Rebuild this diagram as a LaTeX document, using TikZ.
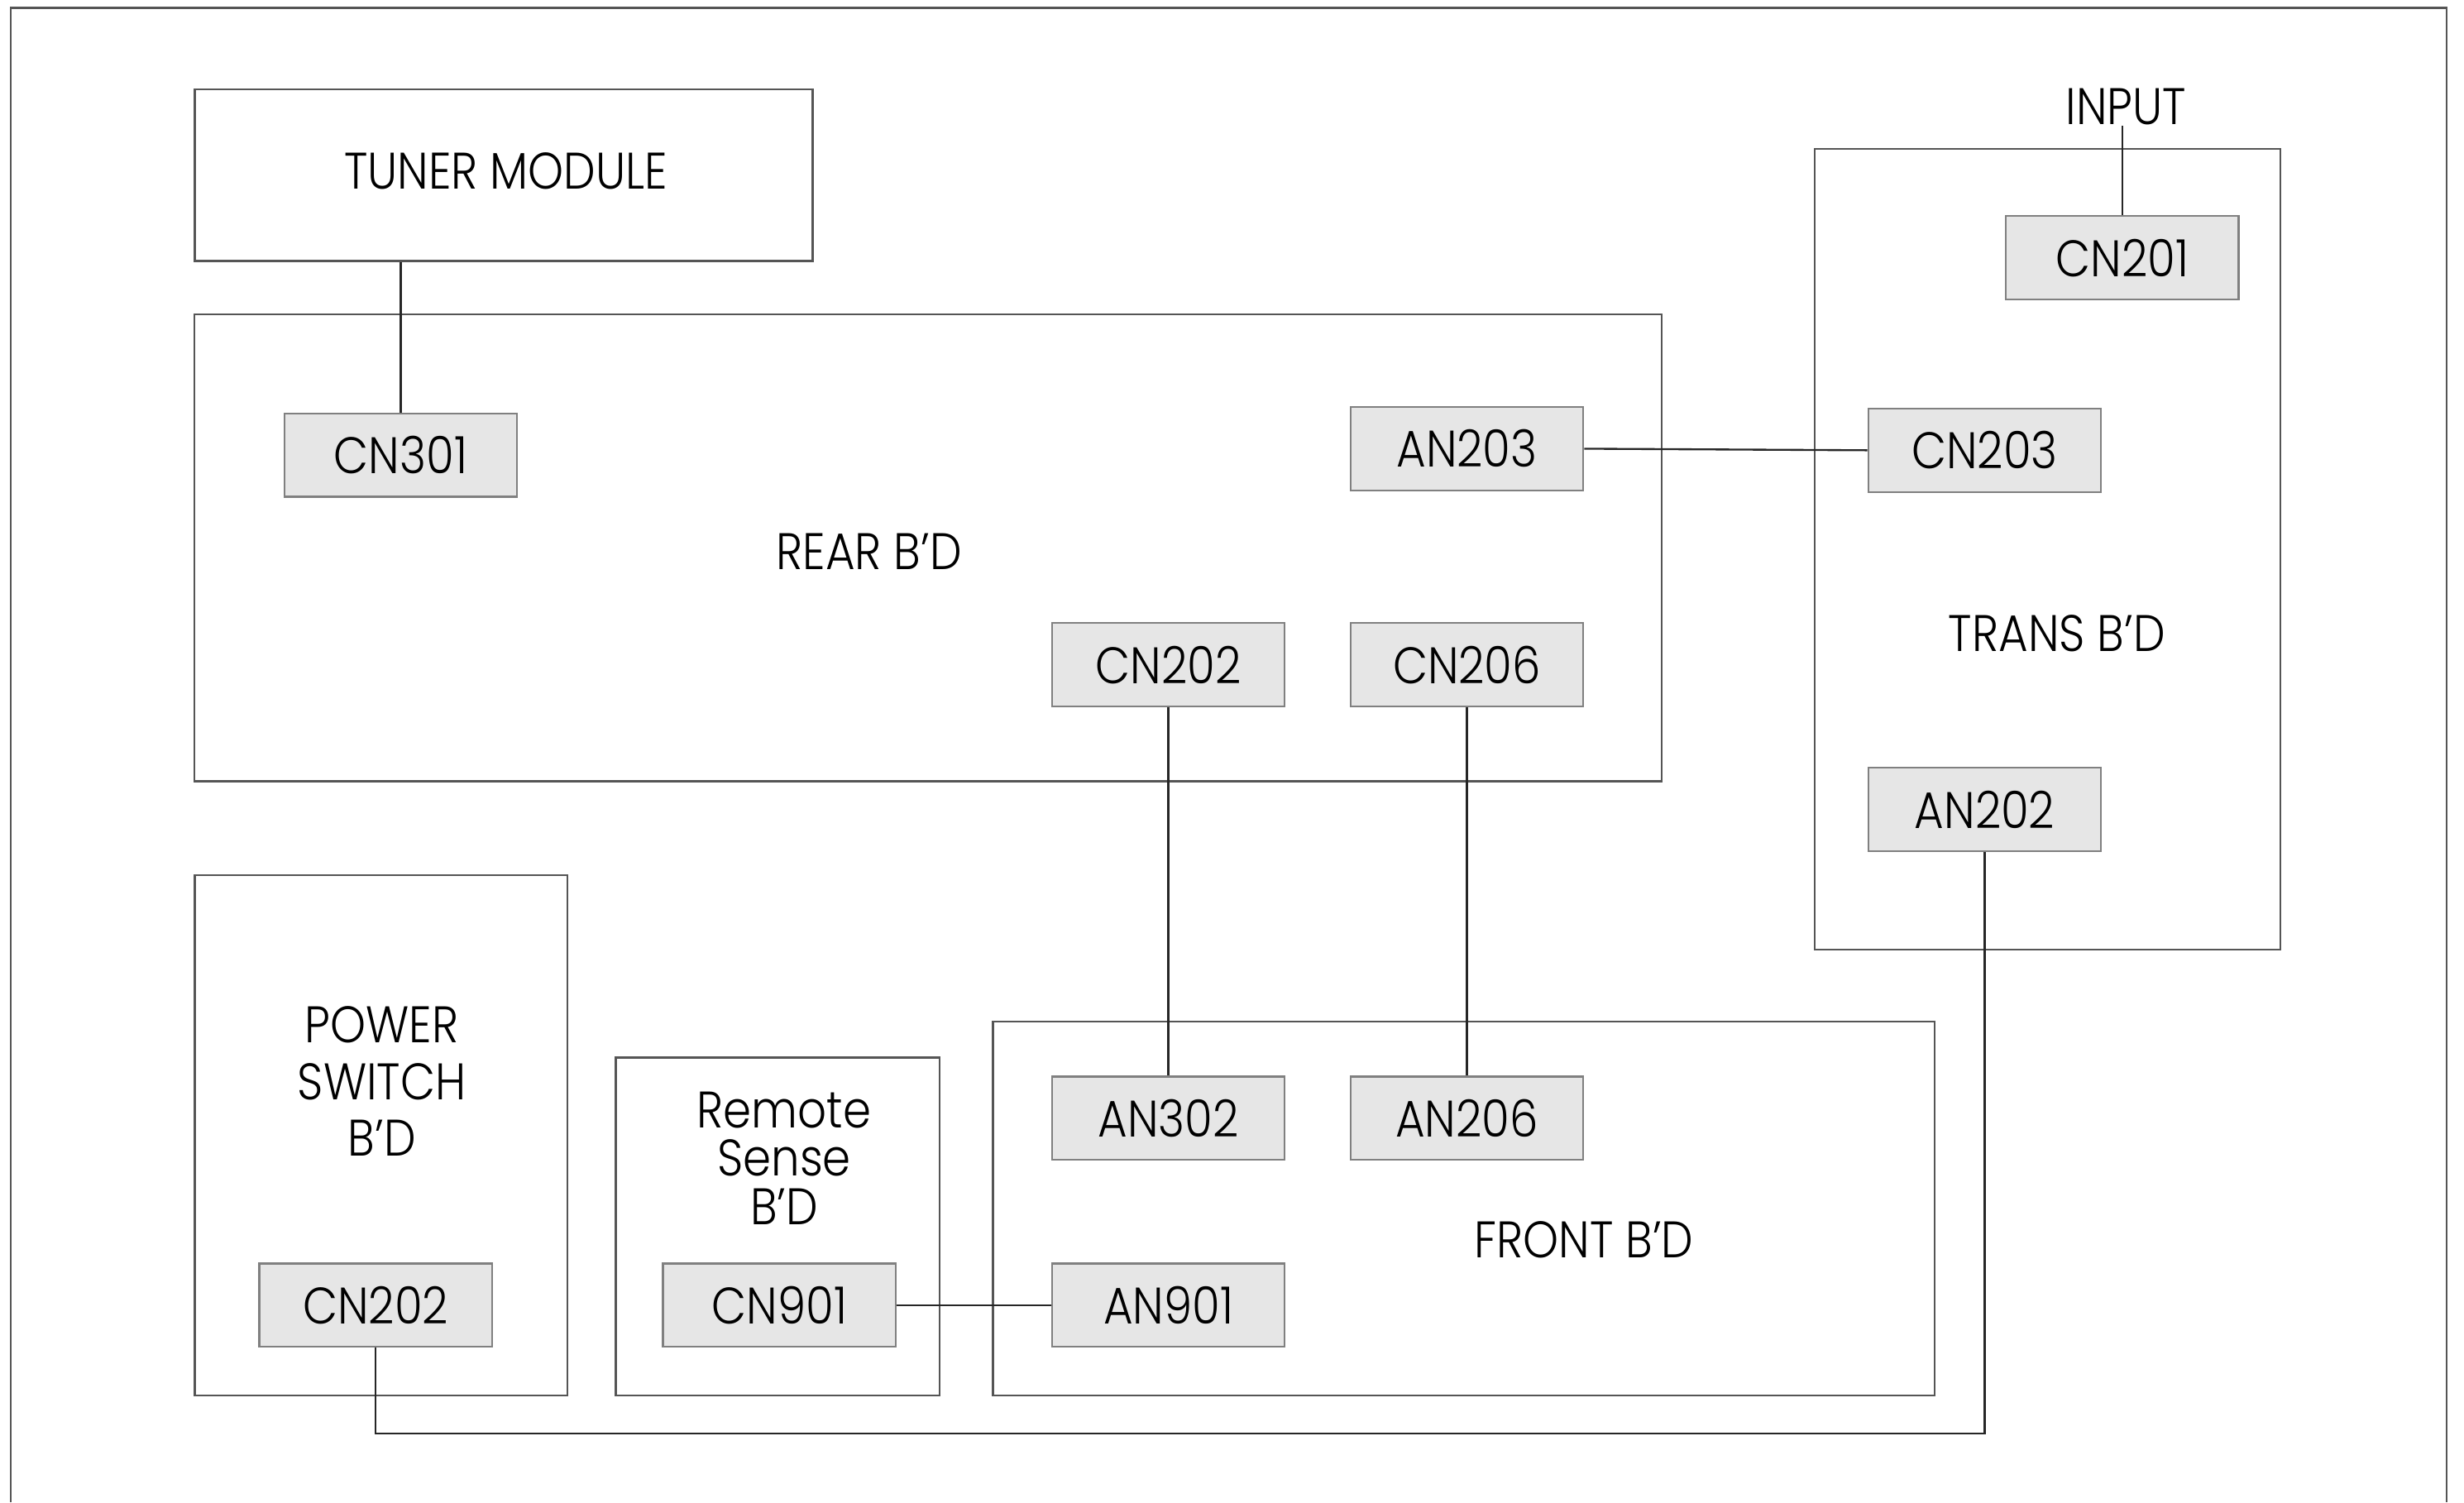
\documentclass[tikz,border=0pt]{standalone}
\usepackage{fontspec}
\setmainfont{Poppins}[UprightFont=* Light, FakeStretch=0.88]
\usetikzlibrary{positioning}
\definecolor{cnfill}{HTML}{E6E6E6}
\definecolor{cnedge}{HTML}{808080}
\definecolor{bdedge}{HTML}{555555}
\tikzset{
  board/.style args={#1/#2}{
    rectangle, draw=bdedge, line width=0.35pt, inner sep=0pt,
    minimum width=#1, minimum height=#2
  },
  conn/.style={
    rectangle, draw=cnedge, fill=cnfill, line width=0.35pt, inner sep=0pt,
    minimum width=1.48cm, minimum height=0.53cm,
    font=\fontsize{9.3}{10.2}\selectfont
  },
  bdlabel/.style={inner sep=0pt, align=center, font=\fontsize{9.3}{10.2}\selectfont},
  wire/.style={line width=0.35pt, draw=black!85},
}
\begin{document}
\begin{tikzpicture}[x=0.01cm, y=-0.01cm]
  \useasboundingbox (0,0) rectangle (1568,956);
  \draw[bdedge, line width=0.35pt] (7,956) -- (7,5) -- (1557,5) -- (1557,956);

  % boards
  \node[board=3.93cm/1.09cm] (tuner) at (320.5,111.5) {};
  \node[board=9.33cm/2.97cm] (rear)  at (590.5,348.5) {};
  \node[board=2.96cm/5.09cm] (trans) at (1303,349.5) {};
  \node[board=2.37cm/3.31cm] (power) at (242.5,722.5) {};
  \node[board=2.06cm/2.15cm] (remote) at (495,780.5) {};
  \node[board=5.99cm/2.38cm] (front) at (931.5,769) {};

  \node[bdlabel] (tunerlbl)  at (322,109) {TUNER MODULE};
  \node[bdlabel] (rearlbl)   at (553,351) {REAR B’D};
  \node[bdlabel] (translbl)  at (1309,403) {TRANS B’D};
  \node[bdlabel] (frontlbl)  at (1008,789) {FRONT B’D};
  \node[bdlabel] (powerlbl)  at (243,688) {POWER\\SWITCH\\B’D};
  \node[bdlabel, font=\fontsize{9.3}{8.8}\selectfont] (remotelbl) at (499,737) {Remote\\Sense\\B’D};
  \node[bdlabel] (input) at (1353,68) {INPUT};

  % connectors
  \node[conn] (cn301)  at (255,289.5)   {CN301};
  \node[conn] (an203)  at (933.5,285.5) {AN203};
  \node[conn] (cn202r) at (743.5,423)   {CN202};
  \node[conn] (cn206)  at (933.5,423)   {CN206};
  \node[conn] (cn201)  at (1350.5,164)  {CN201};
  \node[conn] (cn203)  at (1263,286.5)  {CN203};
  \node[conn] (an202)  at (1263,515)    {AN202};
  \node[conn] (cn202p) at (239,830.5)   {CN202};
  \node[conn] (cn901)  at (496,830.5)   {CN901};
  \node[conn] (an302)  at (743.5,711.5) {AN302};
  \node[conn] (an206)  at (933.5,711.5) {AN206};
  \node[conn] (an901)  at (743.5,830.5) {AN901};

  % wiring
  \coordinate (loop) at (239,912);
  \draw[wire] (cn301.north) -- (cn301.north |- tuner.south);
  \draw[wire] (cn201.north) -- (cn201.north |- input.south);
  \draw[wire] (an203.east) -- (cn203.west);
  \draw[wire] (cn202r.south) -- (an302.north);
  \draw[wire] (cn206.south) -- (an206.north);
  \draw[wire] (cn901.east) -- (an901.west);
  \draw[wire] (an202.south) |- (loop) -- (cn202p.south);
\end{tikzpicture}
\end{document}
